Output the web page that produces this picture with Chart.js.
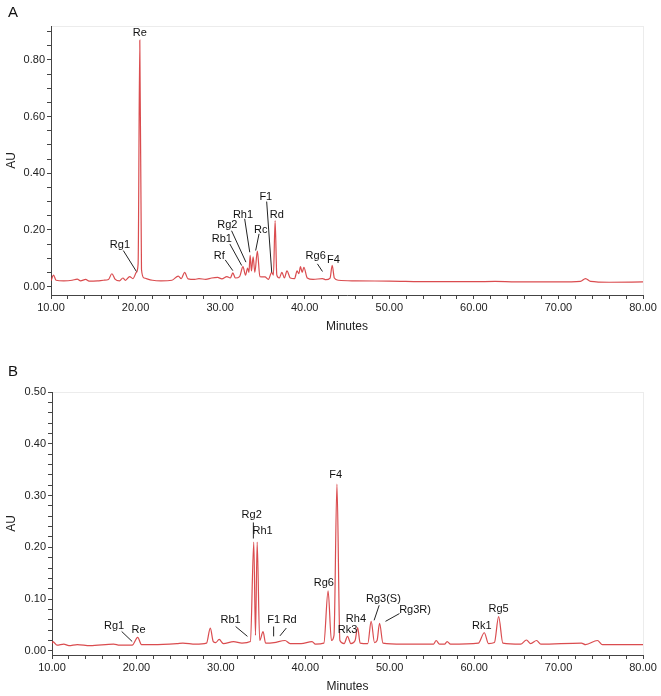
<!DOCTYPE html>
<html>
<head>
<meta charset="utf-8">
<script src="https://cdn.jsdelivr.net/npm/chart.js@4"></script>
<style>
  body { margin: 0; background: #fff; width: 661px; height: 696px; position: relative; overflow: hidden; font-family: "Liberation Sans", Arial, sans-serif; }
  canvas { position: absolute; left: 0; }
  .tag { position: absolute; left: 8px; font-size: 15px; color: #111; z-index: 2; }
</style>
</head>
<body>
<canvas id="chartA" width="661" height="340" style="top:0"></canvas>
<canvas id="chartB" width="661" height="346" style="top:350px"></canvas>
<div class="tag" style="top:3px">A</div>
<div class="tag" style="top:362px">B</div>
<script>
// chromatogram A
const timeA = [10.0,10.3,10.6,11.5,12.5,13.1,13.5,14.1,14.5,15.5,16.2,16.8,17.2,17.6,18.1,18.5,18.8,19.3,19.7,20.1,
  20.3,20.5,20.7,21.0,22.0,23.0,24.3,25.05,25.4,25.8,26.2,27.0,27.5,28.3,29.0,29.7,30.2,30.8,31.2,31.5,
  31.8,32.3,32.7,33.0,33.25,33.4,33.55,33.7,33.9,34.1,34.4,34.7,35.3,35.7,36.1,36.3,36.5,36.7,37.0,37.3,
  37.6,37.9,38.3,38.8,39.1,39.3,39.5,39.7,39.9,40.3,41.0,42.1,42.5,43.0,43.25,43.5,44.0,46.0,50.0,55.0,
  60.0,62.5,65.0,70.0,72.6,73.2,73.8,76.0,80.0];
const auA = [0.020,0.040,0.022,0.020,0.022,0.026,0.020,0.025,0.019,0.020,0.022,0.025,0.045,0.025,0.020,0.030,0.022,0.035,0.028,0.050,
  0.080,0.870,0.060,0.030,0.022,0.020,0.022,0.037,0.028,0.050,0.027,0.025,0.028,0.025,0.030,0.032,0.027,0.035,0.030,0.048,
  0.030,0.035,0.070,0.040,0.065,0.050,0.110,0.055,0.105,0.050,0.125,0.035,0.034,0.025,0.050,0.040,0.233,0.040,0.030,0.050,
  0.030,0.055,0.030,0.028,0.055,0.045,0.070,0.050,0.068,0.030,0.025,0.028,0.024,0.030,0.075,0.030,0.022,0.020,0.019,0.017,
  0.017,0.018,0.016,0.016,0.018,0.028,0.018,0.015,0.016];

// chromatogram B
const timeB = [10.0,10.1,10.6,11.4,12.0,13.0,14.5,17.3,18.0,19.5,20.15,20.6,22.0,24.8,25.5,27.0,28.3,28.75,29.1,29.4,
  29.8,30.3,31.5,32.5,33.5,33.9,34.1,34.3,34.6,35.0,35.3,36.3,37.6,38.2,39.5,40.8,41.2,42.2,42.7,43.1,
  43.4,43.75,44.1,44.6,45.0,45.4,45.9,46.2,46.5,47.4,47.8,48.2,48.5,48.8,49.2,51.5,53.5,55.2,55.5,55.9,
  56.5,56.8,57.2,60.5,61.2,61.7,62.4,62.9,63.4,65.5,66.2,66.7,67.4,67.9,72.7,73.2,74.6,75.2,80.0];
const auB = [0.014,0.018,0.011,0.013,0.010,0.012,0.010,0.013,0.011,0.011,0.026,0.012,0.012,0.014,0.015,0.013,0.015,0.044,0.018,0.016,
  0.022,0.014,0.018,0.015,0.018,0.210,0.030,0.210,0.020,0.037,0.015,0.016,0.020,0.014,0.014,0.018,0.013,0.015,0.116,0.020,
  0.030,0.322,0.020,0.014,0.028,0.014,0.020,0.045,0.015,0.014,0.057,0.016,0.020,0.053,0.015,0.013,0.013,0.013,0.020,0.013,
  0.013,0.018,0.013,0.015,0.035,0.014,0.016,0.066,0.015,0.013,0.021,0.014,0.020,0.013,0.015,0.012,0.020,0.012,0.012];

// peak names (placed in minutes / AU)
const namesA = ['Re','Rg1','Rf','Rb1','Rg2','Rh1','Rc','F1','Rd','Rg6','F4'];
const nameXA = [20.5,18.15,29.9,30.2,30.85,32.7,34.8,35.4,36.7,41.3,43.4];
const nameYA = [0.895,0.145,0.109,0.168,0.219,0.254,0.200,0.317,0.254,0.109,0.092];
const leadA = [[18.55,0.127,20.1,0.053],[30.6,0.094,31.5,0.056],[31.15,0.150,32.55,0.074],[31.35,0.197,33.05,0.086],
  [32.9,0.239,33.5,0.121],[34.6,0.186,34.2,0.127],[35.5,0.300,36.1,0.050],[41.5,0.080,42.1,0.053]];

const namesB = ['Rg1','Re','Rb1','F1','Rd','Rg2','Rh1','Rg6','F4','Rk3','Rh4','Rg3(S)','Rg3R)','Rk1','Rg5'];
const nameXB = [17.35,20.25,31.15,36.25,38.15,33.65,34.95,42.2,43.6,45.0,46.0,49.25,53.0,60.9,62.9];
const nameYB = [0.049,0.041,0.060,0.060,0.060,0.262,0.231,0.131,0.339,0.041,0.062,0.101,0.079,0.049,0.080];
const leadB = [[18.25,0.0375,19.5,0.018],[31.75,0.047,33.15,0.028],[36.25,0.047,36.25,0.028],[37.75,0.044,37.0,0.029],
  [33.85,0.248,33.85,0.217],[48.75,0.088,48.15,0.059],[51.15,0.072,49.5,0.057]];

const FONT = '"Liberation Sans", Arial, sans-serif';

function peakLabels(names, xs, ys, leads) {
  return {
    id: 'peakLabels',
    beforeDraw(chart) {
      const a = chart.chartArea, ctx = chart.ctx;
      ctx.save();
      ctx.strokeStyle = '#ececec';
      ctx.lineWidth = 1;
      ctx.strokeRect(a.left + 0.5, a.top + 0.5, a.right - a.left, a.bottom - a.top);
      ctx.restore();
    },
    afterDatasetsDraw(chart) {
      const ctx = chart.ctx, x = chart.scales.x, y = chart.scales.y;
      ctx.save();
      ctx.strokeStyle = '#222';
      ctx.lineWidth = 1;
      leads.forEach(l => {
        ctx.beginPath();
        ctx.moveTo(x.getPixelForValue(l[0]), y.getPixelForValue(l[1]));
        ctx.lineTo(x.getPixelForValue(l[2]), y.getPixelForValue(l[3]));
        ctx.stroke();
      });
      ctx.fillStyle = '#111';
      ctx.font = '11px ' + FONT;
      ctx.textAlign = 'center';
      ctx.textBaseline = 'middle';
      names.forEach((n, i) => ctx.fillText(n, x.getPixelForValue(xs[i]), y.getPixelForValue(ys[i])));
      ctx.restore();
    }
  };
}

function onStep(v, step) {
  return Math.abs(v / step - Math.round(v / step)) < 1e-6;
}

function makeChart(id, times, values, c) {
  const ctx = document.getElementById(id).getContext('2d');
  return new Chart(ctx, {
    type: 'line',
    data: {
      datasets: [{
        data: times.map((t, i) => ({ x: t, y: values[i] })),
        borderColor: 'rgba(214, 56, 60, 0.9)',
        borderWidth: 1.2,
        pointRadius: 0,
        cubicInterpolationMode: 'monotone'
      }]
    },
    options: {
      responsive: false,
      animation: false,
      devicePixelRatio: 1,
      layout: { padding: { top: c.padTop, right: 18, left: 0, bottom: 0 } },
      plugins: { legend: { display: false }, tooltip: { enabled: false } },
      scales: {
        x: {
          type: 'linear', min: 10, max: 80,
          ticks: {
            stepSize: 2, autoSkip: false, maxRotation: 0, padding: 2,
            color: '#222', font: { family: FONT, size: 11 },
            callback: v => onStep(v, 10) ? v.toFixed(2) : ''
          },
          grid: { drawOnChartArea: false, tickLength: 4, color: '#444' },
          border: { color: '#444' },
          title: { display: true, text: 'Minutes', color: '#222', font: { family: FONT, size: 12 }, padding: { top: 4, bottom: c.titlePad } },
          afterFit: s => { s.height = c.xHeight; }
        },
        y: {
          min: c.yMin, max: c.yMax,
          ticks: {
            autoSkip: false, padding: 2,
            color: '#222', font: { family: FONT, size: 11 },
            callback: v => onStep(v, c.major) ? v.toFixed(2) : ''
          },
          // minor tick every c.minor, label every c.major
          afterBuildTicks: s => {
            const t = [];
            for (let i = 0; i * c.minor <= c.yMax + 1e-9; i++) t.push({ value: +(i * c.minor).toFixed(4) });
            s.ticks = t;
          },
          grid: { drawOnChartArea: false, tickLength: 4, color: '#444' },
          border: { color: '#444' },
          title: { display: true, text: 'AU', color: '#222', font: { family: FONT, size: 12 }, padding: { top: 4, bottom: 0 } },
          afterFit: s => { s.width = c.yWidth; }
        }
      }
    },
    plugins: [peakLabels(c.names, c.nx, c.ny, c.leads)]
  });
}

makeChart('chartA', timeA, auA, {
  padTop: 26, xHeight: 45, titlePad: 6, yWidth: 51,
  yMin: -0.03, yMax: 0.92, major: 0.2, minor: 0.05,
  names: namesA, nx: nameXA, ny: nameYA, leads: leadA
});
makeChart('chartB', timeB, auB, {
  padTop: 42, xHeight: 41, titlePad: 2, yWidth: 52,
  yMin: -0.008, yMax: 0.50, major: 0.1, minor: 0.02,
  names: namesB, nx: nameXB, ny: nameYB, leads: leadB
});
</script>
</body>
</html>
